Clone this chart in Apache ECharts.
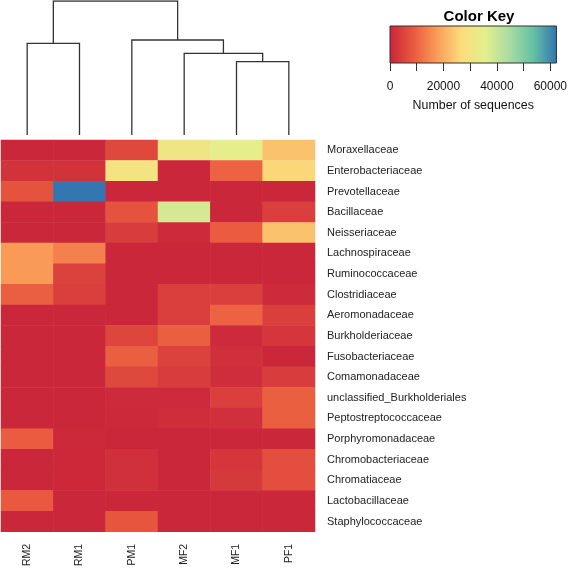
<!DOCTYPE html>
<html><head><meta charset="utf-8">
<script src="https://cdn.jsdelivr.net/npm/echarts@6/dist/echarts.min.js"></script>
<style>html,body{margin:0;padding:0;background:#fff}#c{width:570px;height:569px}</style>
</head><body><div id="c"></div>
<script>
// ---- data ----
const samples = ['RM2', 'RM1', 'PM1', 'MF2', 'MF1', 'PF1'];
const families = ['Moraxellaceae', 'Enterobacteriaceae', 'Prevotellaceae', 'Bacillaceae', 'Neisseriaceae',
  'Lachnospiraceae', 'Ruminococcaceae', 'Clostridiaceae', 'Aeromonadaceae', 'Burkholderiaceae',
  'Fusobacteriaceae', 'Comamonadaceae', 'unclassified_Burkholderiales', 'Peptostreptococcaceae',
  'Porphyromonadaceae', 'Chromobacteriaceae', 'Chromatiaceae', 'Lactobacillaceae', 'Staphylococcaceae'];
// values per family, in sample order RM2, RM1, PM1, MF2, MF1, PF1
const counts = [
  [500, 500, 6000, 31000, 35000, 23000],
  [2500, 2500, 30000, 500, 10000, 26000],
  [7500, 62000, 500, 500, 500, 500],
  [500, 500, 7500, 38000, 500, 4500],
  [500, 500, 4000, 1000, 9000, 23000],
  [17500, 14000, 500, 500, 500, 500],
  [17500, 5000, 500, 500, 500, 500],
  [9500, 4500, 500, 4500, 4500, 1000],
  [500, 500, 500, 4500, 10000, 4500],
  [500, 500, 5500, 9500, 1000, 3000],
  [500, 500, 9500, 5000, 2000, 500],
  [500, 500, 6000, 4000, 1500, 4000],
  [500, 500, 1000, 1000, 4500, 9500],
  [500, 500, 800, 1500, 2000, 9500],
  [9000, 800, 500, 500, 500, 500],
  [500, 700, 2000, 500, 3000, 7000],
  [500, 700, 2000, 500, 3500, 7000],
  [8500, 500, 500, 500, 500, 500],
  [500, 500, 8000, 500, 500, 500]
];
// dendrogram merges: [left node, right node, height]; leaves 0..5, merges numbered 6..
const merges = [
  [0, 1, 91.7],
  [4, 5, 73.3],
  [3, 7, 81.7],
  [2, 8, 95],
  [6, 9, 134]
];
const keyMax = 62300;
const keyColors = ['#c9243a', '#ea5a3f', '#fa9d58', '#fcdc7c', '#e3ef8c', '#abdca2', '#66c1a4', '#3274b0'];
const keyTicks = [0, 10000, 20000, 30000, 40000, 50000, 60000];
const keyLabels = [0, 20000, 40000, 60000];

// ---- build ----
const heatData = [];
counts.forEach((row, r) => row.forEach((v, c) => heatData.push([c, r, v])));

const nodeX = [0, 1, 2, 3, 4, 5], nodeH = [0, 0, 0, 0, 0, 0];
const dendLines = [];
merges.forEach(([a, b, h]) => {
  dendLines.push({coords: [[nodeX[a], nodeH[a]], [nodeX[a], h], [nodeX[b], h], [nodeX[b], nodeH[b]]]});
  nodeX.push((nodeX[a] + nodeX[b]) / 2);
  nodeH.push(h);
});

const chart = echarts.init(document.getElementById('c'), null, {renderer: 'canvas'});
const font = 'Liberation Sans, Arial, Helvetica, sans-serif';
chart.setOption({
  animation: false,
  backgroundColor: '#fff',
  textStyle: {fontFamily: font},
  title: {text: 'Color Key', left: 474, top: 4, textAlign: 'center',
    textStyle: {fontSize: 15, fontWeight: 'bold', color: '#000', fontFamily: font}},
  grid: [
    {left: 1, top: 140, width: 314, height: 393},
    {left: 1, top: 1, width: 314, height: 134},
    {left: 390, top: 26, width: 169, height: 37}
  ],
  xAxis: [
    {type: 'category', gridIndex: 0, data: samples, position: 'bottom',
      axisLine: {show: false}, axisTick: {show: false},
      axisLabel: {rotate: 90, fontSize: 10.5, color: '#222', margin: 12, fontFamily: font}},
    {type: 'value', gridIndex: 1, min: -0.5, max: 5.5, show: false},
    {type: 'value', gridIndex: 2, min: 0, max: keyMax, position: 'bottom',
      axisLine: {show: false}, splitLine: {show: false},
      axisTick: {show: true, length: 8, customValues: keyTicks, lineStyle: {color: '#333', width: 1}},
      axisLabel: {customValues: keyLabels, fontSize: 12, color: '#111', margin: 18, fontFamily: font,
        formatter: v => String(v)},
      name: 'Number of sequences', nameLocation: 'middle', nameGap: 37,
      nameTextStyle: {fontSize: 12.4, color: '#111', fontFamily: font}}
  ],
  yAxis: [
    {type: 'category', gridIndex: 0, data: families, inverse: true, position: 'right',
      axisLine: {show: false}, axisTick: {show: false},
      axisLabel: {fontSize: 11, color: '#222', margin: 12, fontFamily: font}},
    {type: 'value', gridIndex: 1, min: 0, max: 134, show: false},
    {type: 'value', gridIndex: 2, min: 0, max: 1, show: false}
  ],
  visualMap: {show: false, type: 'continuous', min: 0, max: keyMax, seriesIndex: 0,
    inRange: {color: keyColors}},
  series: [
    {type: 'heatmap', xAxisIndex: 0, yAxisIndex: 0, data: heatData,
      itemStyle: {borderWidth: 0}, emphasis: {disabled: true}},
    {type: 'lines', coordinateSystem: 'cartesian2d', xAxisIndex: 1, yAxisIndex: 1, polyline: true,
      data: dendLines, lineStyle: {color: '#333', width: 1.3, opacity: 1}, silent: true},
    {type: 'custom', xAxisIndex: 2, yAxisIndex: 2, data: [[0, keyMax]], silent: true,
      renderItem: (params, api) => {
        const p0 = api.coord([api.value(0), 1]);
        const p1 = api.coord([api.value(1), 0]);
        return {type: 'rect', shape: {x: p0[0], y: p0[1], width: p1[0] - p0[0], height: p1[1] - p0[1]},
          style: {fill: new echarts.graphic.LinearGradient(0, 0, 1, 0,
              keyColors.map((c, i) => ({offset: i / (keyColors.length - 1), color: c}))),
            stroke: '#333', lineWidth: 1}};
      }}
  ]
});
</script></body></html>
